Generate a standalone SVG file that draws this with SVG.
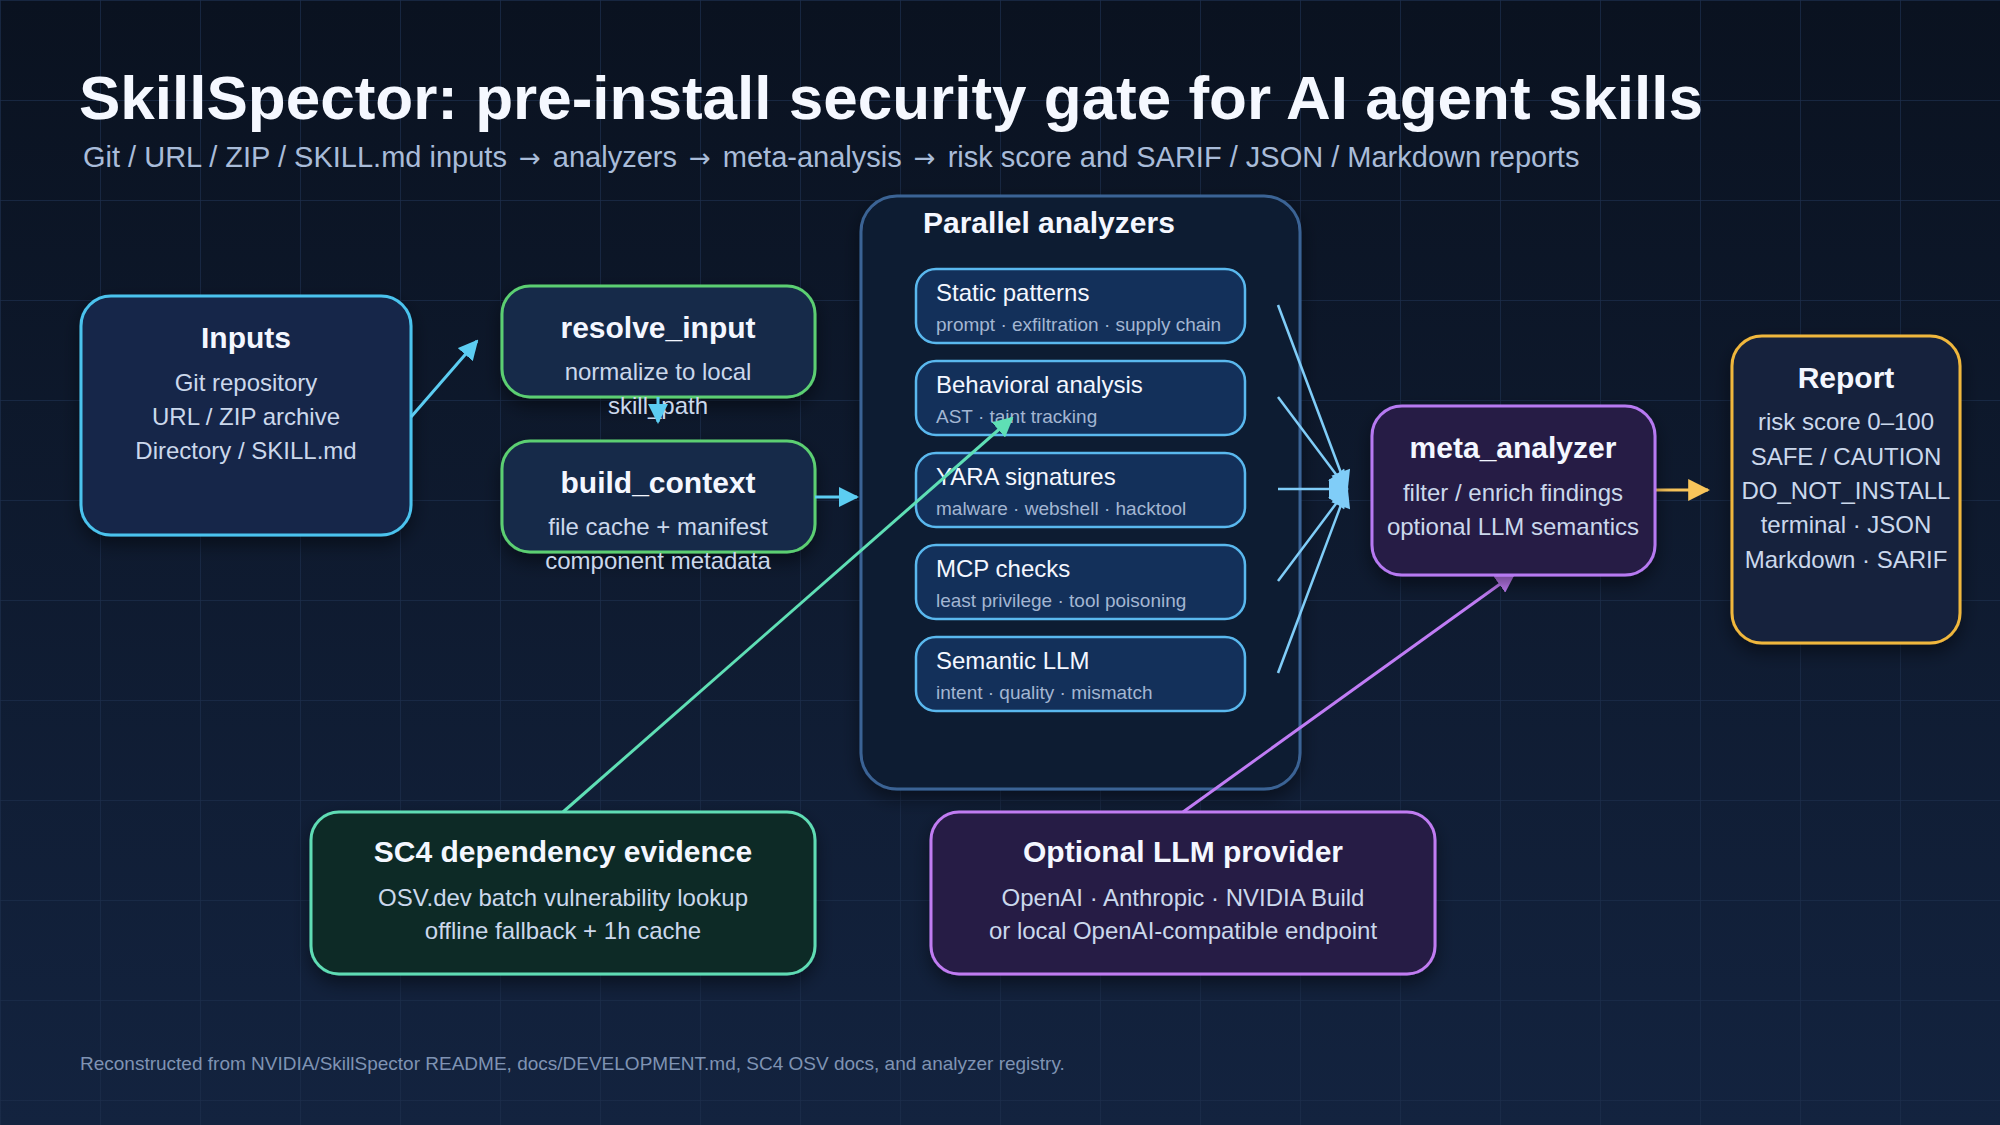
<svg xmlns="http://www.w3.org/2000/svg" width="2000" height="1125" viewBox="0 0 2000 1125">
<defs>
<linearGradient id="bg" x1="0" y1="0" x2="0" y2="1">
<stop offset="0" stop-color="#0a1220"/>
<stop offset="1" stop-color="#13233f"/>
</linearGradient>
<pattern id="grid" width="100" height="100" patternUnits="userSpaceOnUse">
<path d="M100 0 L0 0 L0 100" fill="none" stroke="#1c2d4a" stroke-width="1.5"/>
</pattern>
<filter id="shadow" x="-20%" y="-20%" width="140%" height="150%">
<feDropShadow dx="0" dy="8" stdDeviation="9" flood-color="#000000" flood-opacity="0.45"/>
</filter>
<marker id="mCyan" viewBox="0 0 10 10" refX="9" refY="5" markerWidth="20" markerHeight="20" markerUnits="userSpaceOnUse" orient="auto"><path d="M0,0 L10,5 L0,10 z" fill="#5ccdf2"/></marker>
<marker id="mBlue" viewBox="0 0 10 10" refX="9" refY="5" markerWidth="22" markerHeight="20" markerUnits="userSpaceOnUse" orient="auto"><path d="M0,0 L10,5 L0,10 z" fill="#80cdf8"/></marker>
<marker id="mTeal" viewBox="0 0 10 10" refX="9" refY="5" markerWidth="20" markerHeight="20" markerUnits="userSpaceOnUse" orient="auto"><path d="M0,0 L10,5 L0,10 z" fill="#5fdfb5"/></marker>
<marker id="mPurple" viewBox="0 0 10 10" refX="9" refY="5" markerWidth="20" markerHeight="20" markerUnits="userSpaceOnUse" orient="auto"><path d="M0,0 L10,5 L0,10 z" fill="#c07cf5"/></marker>
<marker id="mYellow" viewBox="0 0 10 10" refX="9" refY="5" markerWidth="22" markerHeight="22" markerUnits="userSpaceOnUse" orient="auto"><path d="M0,0 L10,5 L0,10 z" fill="#f7c45a"/></marker>
</defs>
<style>
text { font-family: "Liberation Sans", Arial, sans-serif; }
.title { font-size: 62px; font-weight: bold; fill: #f5f8ff; }
.subtitle { font-size: 29px; fill: #a9bcd9; }
.arr { font-family: "DejaVu Sans", sans-serif; font-size: 26px; }
.ntitle { font-size: 30px; font-weight: bold; fill: #f4f7ff; text-anchor: middle; }
.nbody { font-size: 24px; fill: #cbd8ec; text-anchor: middle; }
.atitle { font-size: 24px; fill: #f4f7ff; }
.asub { font-size: 19px; fill: #a3b6d2; }
.ptitle { font-size: 30px; font-weight: bold; fill: #f4f7ff; }
.footer { font-size: 19px; fill: #7f93b3; }
.box { stroke-width: 3; filter: url(#shadow); }
.abox { fill: #13305a; stroke: #5ab8ee; stroke-width: 2.5; }
.edge { fill: none; stroke-width: 3; }
.conv { fill: none; stroke: #80cdf8; stroke-width: 2.5; marker-end: url(#mBlue); }
</style>
<rect x="0" y="0" width="2000" height="1125" fill="url(#bg)"/>
<rect x="0" y="0" width="2000" height="1125" fill="url(#grid)"/>

<g id="header">
<text class="title" x="79" y="119">SkillSpector: pre-install security gate for AI agent skills</text>
<text class="subtitle" x="83" y="167">Git / URL / ZIP / SKILL.md inputs <tspan class="arr" dx="4">→</tspan><tspan dx="4"> analyzers </tspan><tspan class="arr" dx="4">→</tspan><tspan dx="4"> meta-analysis </tspan><tspan class="arr" dx="4">→</tspan><tspan dx="4"> risk score and SARIF / JSON / Markdown reports</tspan></text>
</g>

<g id="parallel-analyzers">
<rect class="box" x="861" y="196" width="439" height="593" rx="36" fill="#0d1a30" stroke="#3b6495"/>
<text class="ptitle" x="923" y="233">Parallel analyzers</text>
<g id="static-patterns">
<rect class="abox" x="916" y="269" width="329" height="74" rx="20"/>
<text class="atitle" x="936" y="301">Static patterns</text>
<text class="asub" x="936" y="331">prompt · exfiltration · supply chain</text>
</g>
<g id="behavioral-analysis">
<rect class="abox" x="916" y="361" width="329" height="74" rx="20"/>
<text class="atitle" x="936" y="393">Behavioral analysis</text>
<text class="asub" x="936" y="423">AST · taint tracking</text>
</g>
<g id="yara-signatures">
<rect class="abox" x="916" y="453" width="329" height="74" rx="20"/>
<text class="atitle" x="936" y="485">YARA signatures</text>
<text class="asub" x="936" y="515">malware · webshell · hacktool</text>
</g>
<g id="mcp-checks">
<rect class="abox" x="916" y="545" width="329" height="74" rx="20"/>
<text class="atitle" x="936" y="577">MCP checks</text>
<text class="asub" x="936" y="607">least privilege · tool poisoning</text>
</g>
<g id="semantic-llm">
<rect class="abox" x="916" y="637" width="329" height="74" rx="20"/>
<text class="atitle" x="936" y="669">Semantic LLM</text>
<text class="asub" x="936" y="699">intent · quality · mismatch</text>
</g>
</g>

<g id="inputs">
<rect class="box" x="81" y="296" width="330" height="239" rx="30" fill="#12284a" stroke="#4cc3ee"/>
<text class="ntitle" x="246" y="348">Inputs</text>
<text class="nbody" x="246" y="391">Git repository</text>
<text class="nbody" x="246" y="425">URL / ZIP archive</text>
<text class="nbody" x="246" y="459">Directory / SKILL.md</text>
</g>

<g id="resolve_input">
<rect class="box" x="502" y="286" width="313" height="111" rx="28" fill="#12294a" stroke="#5ccf72"/>
<text class="ntitle" x="658" y="338">resolve_input</text>
<text class="nbody" x="658" y="380">normalize to local</text>
<text class="nbody" x="658" y="414">skill_path</text>
</g>

<g id="build_context">
<rect class="box" x="502" y="441" width="313" height="111" rx="28" fill="#12294a" stroke="#5ccf72"/>
<text class="ntitle" x="658" y="493">build_context</text>
<text class="nbody" x="658" y="535">file cache + manifest</text>
<text class="nbody" x="658" y="569">component metadata</text>
</g>

<g id="report">
<rect class="box" x="1732" y="336" width="228" height="307" rx="30" fill="#15223c" stroke="#f0b73c"/>
<text class="ntitle" x="1846" y="388">Report</text>
<text class="nbody" x="1846" y="430">risk score 0–100</text>
<text class="nbody" x="1846" y="465">SAFE / CAUTION</text>
<text class="nbody" x="1846" y="499">DO_NOT_INSTALL</text>
<text class="nbody" x="1846" y="533">terminal · JSON</text>
<text class="nbody" x="1846" y="568">Markdown · SARIF</text>
</g>

<g id="sc4-dependency-evidence">
<rect class="box" x="311" y="812" width="504" height="162" rx="28" fill="#112a28" stroke="#5fdcb4"/>
<text class="ntitle" x="563" y="862">SC4 dependency evidence</text>
<text class="nbody" x="563" y="906">OSV.dev batch vulnerability lookup</text>
<text class="nbody" x="563" y="939">offline fallback + 1h cache</text>
</g>

<g id="optional-llm-provider">
<rect class="box" x="931" y="812" width="504" height="162" rx="28" fill="#261b44" stroke="#c07cf2"/>
<text class="ntitle" x="1183" y="862">Optional LLM provider</text>
<text class="nbody" x="1183" y="906">OpenAI · Anthropic · NVIDIA Build</text>
<text class="nbody" x="1183" y="939">or local OpenAI-compatible endpoint</text>
</g>

<g id="connectors">
<line class="edge" x1="411" y1="417" x2="477" y2="341" stroke="#5ccdf2" marker-end="url(#mCyan)"/>
<line class="edge" x1="658" y1="397" x2="658" y2="422" stroke="#5ccdf2" marker-end="url(#mCyan)"/>
<line class="edge" x1="815" y1="497" x2="857" y2="497" stroke="#5ccdf2" marker-end="url(#mCyan)"/>
<line class="conv" x1="1278" y1="305" x2="1347" y2="489"/>
<line class="conv" x1="1278" y1="397" x2="1347" y2="489"/>
<line class="conv" x1="1278" y1="489" x2="1347" y2="489"/>
<line class="conv" x1="1278" y1="581" x2="1347" y2="489"/>
<line class="conv" x1="1278" y1="673" x2="1347" y2="489"/>
<line class="edge" x1="1655" y1="490" x2="1708" y2="490" stroke="#f7c45a" marker-end="url(#mYellow)"/>
<line class="edge" x1="563" y1="812" x2="1012" y2="418" stroke="#5fdfb5" marker-end="url(#mTeal)"/>
<line class="edge" x1="1183" y1="812" x2="1514" y2="574" stroke="#c07cf5" marker-end="url(#mPurple)"/>
</g>

<g id="meta_analyzer">
<rect class="box" x="1372" y="406" width="283" height="169" rx="30" fill="#251a45" stroke="#b77af2"/>
<text class="ntitle" x="1513" y="458">meta_analyzer</text>
<text class="nbody" x="1513" y="501">filter / enrich findings</text>
<text class="nbody" x="1513" y="535">optional LLM semantics</text>
</g>

<g id="footer">
<text class="footer" x="80" y="1070">Reconstructed from NVIDIA/SkillSpector README, docs/DEVELOPMENT.md, SC4 OSV docs, and analyzer registry.</text>
</g>
</svg>
